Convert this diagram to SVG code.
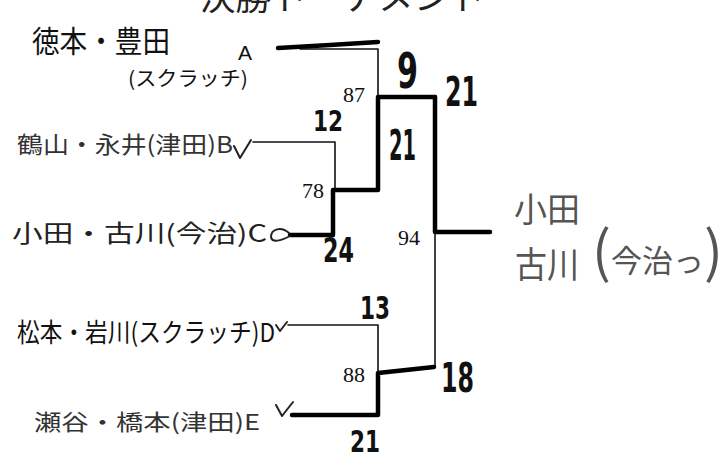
<svg xmlns="http://www.w3.org/2000/svg" width="725" height="453" viewBox="0 0 725 453">
<style>
.jp{font-family:"Noto Sans CJK JP","Noto Sans",sans-serif;}
.lat{font-family:"Liberation Sans","DejaVu Sans",sans-serif;}
.pr{font-family:"Liberation Serif","DejaVu Serif",serif;font-size:22px;fill:#111;}
.hw{font-family:"DejaVu Sans","Liberation Sans",sans-serif;font-weight:bold;fill:#111;}
.thin{fill:none;stroke:#111;stroke-width:1.6;stroke-linecap:round;stroke-linejoin:round;}
.thick{fill:none;stroke:#000;stroke-width:4.5;stroke-linecap:round;stroke-linejoin:round;}
.mark{fill:none;stroke:#222;stroke-width:2;stroke-linecap:round;stroke-linejoin:round;}
</style>
<rect width="725" height="453" fill="#fff"/>
<g id="title">
<text class="jp" x="200" y="10" font-size="34" fill="#222" textLength="285" lengthAdjust="spacingAndGlyphs">決勝トーナメント</text>
</g>
<g id="team-a">
<text class="jp" x="32" y="52" font-size="30" fill="#111" textLength="138" lengthAdjust="spacingAndGlyphs">徳本・豊田</text>
<text class="jp" x="128" y="86" font-size="20" fill="#111" textLength="120" lengthAdjust="spacingAndGlyphs">(スクラッチ)</text>
<text class="lat" x="238" y="60" font-size="21" fill="#111">A</text>
</g>
<g id="team-b">
<text class="jp" x="17" y="153" font-size="23" fill="#333" textLength="216" lengthAdjust="spacingAndGlyphs">鶴山・永井(津田)B</text>
</g>
<g id="team-c">
<text class="jp" x="12" y="242" font-size="24" fill="#222" textLength="255" lengthAdjust="spacingAndGlyphs">小田・古川(今治)C</text>
</g>
<g id="team-d">
<text class="jp" x="17" y="342" font-size="26" fill="#111" textLength="258" lengthAdjust="spacingAndGlyphs">松本・岩川(スクラッチ)D</text>
</g>
<g id="team-e">
<text class="jp" x="34" y="430" font-size="22" fill="#333" textLength="226" lengthAdjust="spacingAndGlyphs">瀬谷・橋本(津田)E</text>
</g>
<g id="winner">
<text class="jp" x="514" y="222" font-size="34" fill="#555" textLength="66" lengthAdjust="spacingAndGlyphs">小田</text>
<text class="jp" x="515" y="278" font-size="36" fill="#555" textLength="64" lengthAdjust="spacingAndGlyphs">古川</text>
<text class="jp" x="592" y="272" fill="#555"><tspan font-size="56">(</tspan><tspan font-size="31">今治っ</tspan><tspan font-size="56">)</tspan></text>
</g>
<g id="connectors">
<path class="thin" d="M300,49 H378 V97"/>
<path class="thick" stroke-width="4" d="M278,48 L330,45 L378,42"/>
<path class="thin" d="M253,142 H335 V188"/>
<path class="mark" d="M234,146 L240,158 L251,140"/>
<path class="thick" d="M290,235 H333 V190 H378 V97 H435"/>
<path class="thick" stroke-width="6.5" d="M435,97 V232 H490"/>
<path class="mark" stroke-width="2.5" d="M289,233 C281,226 271,229 271,237 C272,243 281,241 290,236"/>
<path class="thin" d="M435,232 V367"/>
<path class="thin" d="M288,325 H378 V372"/>
<path class="mark" d="M276,325 L280,331 L287,322"/>
<path class="thick" d="M292,415 H378 V373 L434,367"/>
<path class="mark" d="M276,405 L282,416 L293,402"/>
</g>
<g id="scores">
<text class="pr" x="343" y="102">87</text>
<text class="pr" x="302" y="198">78</text>
<text class="pr" x="398" y="245">94</text>
<text class="pr" x="343" y="382">88</text>
<text class="hw" x="313" y="131" font-size="28" textLength="30" lengthAdjust="spacingAndGlyphs">12</text>
<text class="hw" x="397" y="88" font-size="50" font-weight="normal" textLength="21" lengthAdjust="spacingAndGlyphs">9</text>
<text class="hw" x="445" y="106" font-size="40" font-weight="normal" textLength="33" lengthAdjust="spacingAndGlyphs">21</text>
<text class="hw" x="389" y="160" font-size="42" font-weight="normal" textLength="27" lengthAdjust="spacingAndGlyphs">21</text>
<text class="hw" x="323" y="262" font-size="34" textLength="31" lengthAdjust="spacingAndGlyphs">24</text>
<text class="hw" x="360" y="319" font-size="32" textLength="30" lengthAdjust="spacingAndGlyphs">13</text>
<text class="hw" x="441" y="392" font-size="40" font-weight="normal" textLength="33" lengthAdjust="spacingAndGlyphs">18</text>
<text class="hw" x="350" y="452" font-size="30" textLength="30" lengthAdjust="spacingAndGlyphs">21</text>
</g>
</svg>
